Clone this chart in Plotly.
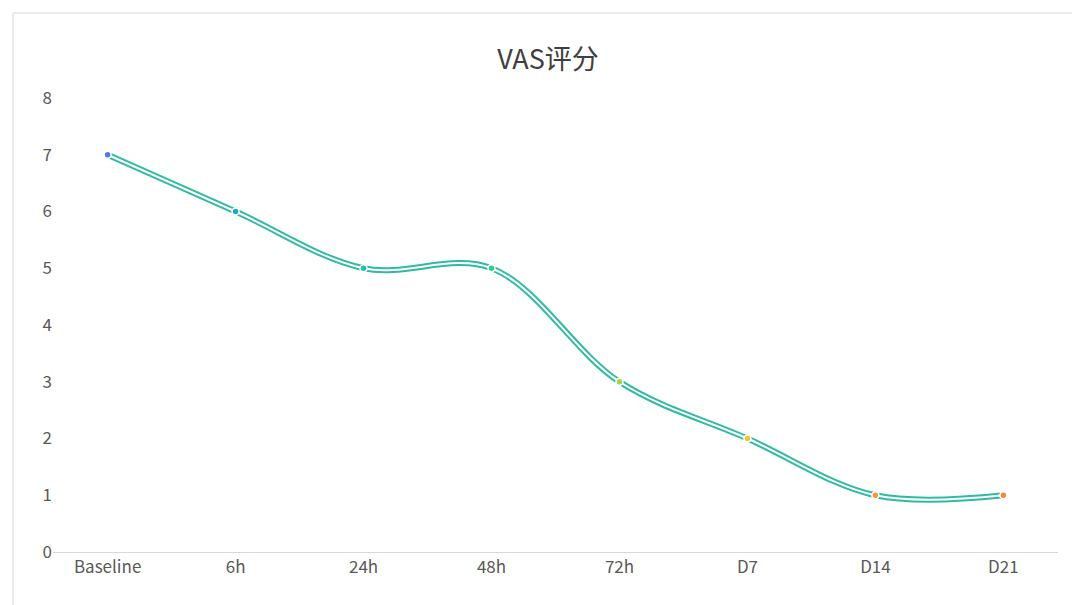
import plotly.graph_objects as go

categories = ["Baseline", "6h", "24h", "48h", "72h", "D7", "D14", "D21"]
vas_scores = [7, 6, 5, 5, 3, 2, 1, 1]
point_colors = ["#4a7fe0", "#1ea8cc", "#22bfb0", "#3cc88a", "#a6d24e", "#f2c832", "#f39a3a", "#f08a3c"]

W, H = 1080, 605
L, R, T, B = 45, 30, 90, 61
pw, ph = W - L - R, H - T - B

fig = go.Figure()
# coloured outer line
fig.add_trace(go.Scatter(
    x=categories, y=vas_scores, mode="lines",
    line=dict(shape="spline", smoothing=1.0, width=6, color="#30bba0"),
    hoverinfo="skip", showlegend=False))
# white core gives the hollow look
fig.add_trace(go.Scatter(
    x=categories, y=vas_scores, mode="lines+markers",
    line=dict(shape="spline", smoothing=1.0, width=2, color="white"),
    marker=dict(size=7, color=point_colors, line=dict(width=1.5, color="white")),
    showlegend=False))

fig.update_layout(
    width=W, height=H,
    paper_bgcolor="white", plot_bgcolor="white",
    margin=dict(l=L, r=R, t=T, b=B),
    title=dict(text="VAS评分", x=0.5, y=0.93, xanchor="center",
               font=dict(size=27, color="#404040", family="Noto Sans CJK SC")),
    font=dict(family="Noto Sans CJK SC", size=17, color="#595959"),
    xaxis=dict(showgrid=False, showline=True, linecolor="#d9d9d9", linewidth=1,
               ticks="", automargin=False),
    yaxis=dict(range=[0, 8], dtick=1, showgrid=False, zeroline=False,
               showline=False, ticks="", automargin=False),
    shapes=[dict(type="rect", xref="paper", yref="paper",
                 x0=(5 - L) / pw, x1=(1075 - L) / pw,
                 y0=-(600 - (H - B)) / ph, y1=(H - B - 5) / ph,
                 line=dict(color="#d9d9d9", width=1))],
)
fig.write_html("out.html")
